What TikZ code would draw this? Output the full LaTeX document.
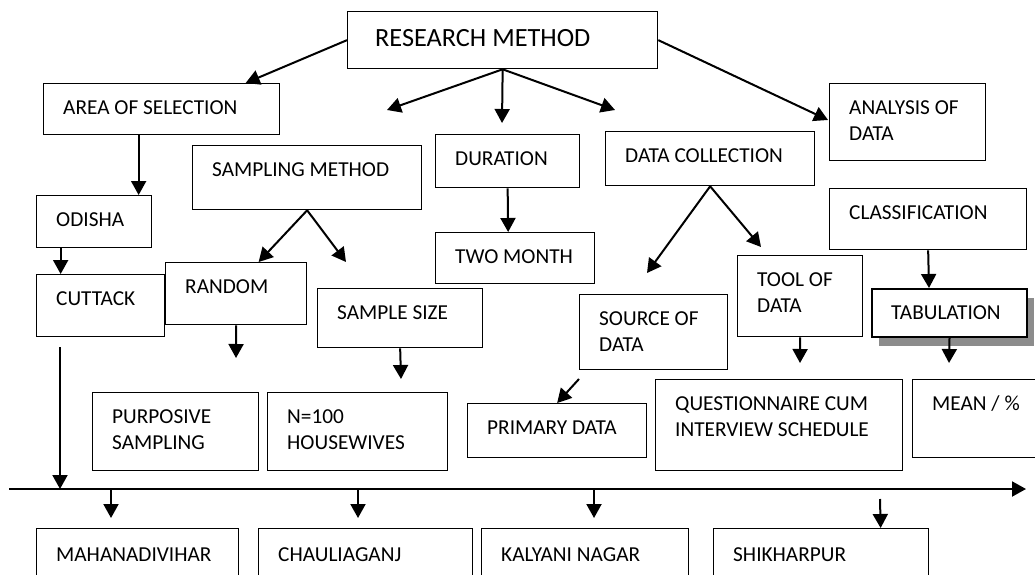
\documentclass[tikz,border=0pt]{standalone}
\usepackage{fontspec}
\setmainfont{Carlito}
\usetikzlibrary{arrows.meta,shadows}

\begin{document}
\begin{tikzpicture}[x=1pt,y=-1pt]
          \tikzstyle{box}=[draw, line width=1.3pt, anchor=north west, inner sep=0pt]
          \tikzstyle{lbl}=[anchor=base west, inner sep=0pt, align=left, xshift=20pt, yshift=-31pt, font=\fontsize{21.3}{26}\selectfont]
          \tikzstyle{lbltwo}=[lbl, yshift=-26pt]
          \tikzstyle{arr}=[line width=2pt, -{Triangle[length=14pt,width=15pt]}]
          \useasboundingbox (0,0) rectangle (1035,575);
          \node[box, minimum width=310, minimum height=57, label={[lbl, xshift=8pt, yshift=-5pt, font=\fontsize{26.3}{31}\selectfont]north west:RESEARCH METHOD}] (rm) at (347,11) {};
          \node[box, minimum width=236, minimum height=51, label={[lbl]north west:AREA OF SELECTION}] (area) at (43,83) {};
          \node[box, minimum width=229, minimum height=64, label={[lbl]north west:SAMPLING METHOD}] (samp) at (192,145) {};
          \node[box, minimum width=144, minimum height=53, label={[lbl]north west:DURATION}] (dur) at (435,134) {};
          \node[box, minimum width=115, minimum height=52, label={[lbl]north west:ODISHA}] (odisha) at (36,195) {};
          \node[box, minimum width=159, minimum height=51, label={[lbl]north west:TWO MONTH}] (twomonth) at (435,232) {};
          \node[box, minimum width=141, minimum height=62, label={[lbl]north west:RANDOM}] (random) at (165,262) {};
          \node[box, minimum width=128, minimum height=62, label={[lbl]north west:CUTTACK}] (cuttack) at (36,274) {};
          \node[box, minimum width=165, minimum height=59, label={[lbl]north west:SAMPLE SIZE}] (ssize) at (317,288) {};
          \node[box, minimum width=156, minimum height=77, label={[lbltwo]north west:ANALYSIS OF\\DATA}] (analysis) at (829,83) {};
          \node[box, minimum width=209, minimum height=54, label={[lbl]north west:DATA COLLECTION}] (datacoll) at (605,131) {};
          \node[box, minimum width=197, minimum height=61, label={[lbl]north west:CLASSIFICATION}] (classif) at (829,188) {};
          \node[box, minimum width=125, minimum height=81, label={[lbltwo]north west:TOOL OF\\DATA}] (tool) at (737,255) {};
          \node[box, line width=2pt, fill=white, minimum width=155, minimum height=48, drop shadow={shadow xshift=7pt, shadow yshift=-9pt, fill=black!45, opacity=1}, label={[lbl]north west:TABULATION}] (tab) at (871,288) {};
          \node[box, minimum width=148, minimum height=75, label={[lbltwo]north west:SOURCE OF\\DATA}] (source) at (579,294) {};
          \node[box, minimum width=179, minimum height=54, label={[lbl]north west:PRIMARY DATA}] (primary) at (467,403) {};
          \node[box, minimum width=247, minimum height=91, label={[lbltwo]north west:QUESTIONNAIRE CUM\\INTERVIEW SCHEDULE}] (quest) at (655,379) {};
          \node[box, minimum width=140, minimum height=78, label={[lbl]north west:MEAN / \%}] (mean) at (912,379) {};
          \node[box, minimum width=166, minimum height=78, label={[lbltwo]north west:PURPOSIVE\\SAMPLING}] (purp) at (92,392) {};
          \node[box, minimum width=180, minimum height=78, label={[lbltwo]north west:N=100\\HOUSEWIVES}] (nhouse) at (267,392) {};
          \node[box, minimum width=202, minimum height=60, label={[lbl, yshift=-2pt]north west:MAHANADIVIHAR}] (maha) at (36,528) {};
          \node[box, minimum width=214, minimum height=60, label={[lbl, yshift=-2pt]north west:CHAULIAGANJ}] (chau) at (258,528) {};
          \node[box, minimum width=207, minimum height=60, label={[lbl, yshift=-2pt]north west:KALYANI NAGAR}] (kaly) at (481,528) {};
          \node[box, minimum width=215, minimum height=60, label={[lbl, yshift=-2pt]north west:SHIKHARPUR}] (shik) at (713,528) {};
          \coordinate (ta) at (828,120);
          \coordinate (t1) at (387,110);
          \coordinate (t2) at (502,123);
          \coordinate (t3) at (615,110);
          \coordinate (ts) at (346,262);
          \coordinate (td1) at (647,273);
          \coordinate (td2) at (761,247);
          \coordinate (tr) at (236,358);
          \coordinate (tss) at (401,379);
          \coordinate (sp) at (579,379);
          \coordinate (tt) at (800,363);
          \coordinate (ttab) at (949,363);
          \coordinate (c1) at (60,347);
          \coordinate (ls) at (9,489);
          \coordinate (le) at (1026,489);
          \coordinate (b1) at (111,518);
          \coordinate (b2) at (358,518);
          \coordinate (b3) at (594,518);
          \coordinate (b4) at (880,499);
          \draw[arr] (rm.west) -- ([xshift=84pt]area.north);
          \draw[arr] (rm.east) -- (ta);
          \draw[arr] (rm.south) -- (t1);
          \draw[arr] (rm.south) -- (t2);
          \draw[arr] (rm.south) -- (t3);
          \draw[arr] ([xshift=-23pt]area.south) -- ([xshift=44.5pt]odisha.north);
          \draw[arr] ([xshift=-33.5pt]odisha.south) -- ([xshift=-40pt]cuttack.north);
          \draw[arr] (samp.south) -- ([xshift=22.5pt]random.north);
          \draw[arr] (samp.south) -- (ts);
          \draw[arr] (dur.south) -- ([xshift=-7pt]twomonth.north);
          \draw[arr] (datacoll.south) -- (td1);
          \draw[arr] (datacoll.south) -- (td2);
          \draw[arr] (classif.south) -- ([xshift=-20.5pt]tab.north);
          \draw[arr] (random.south) -- (tr);
          \draw[arr] (ssize.south) -- (tss);
          \draw[arr] (sp) -- (primary.north);
          \draw[arr] (tool.south) -- (tt);
          \draw[arr] (tab.south) -- (ttab);
          \draw[arr] (c1) -- (c1 |- ls);
          \draw[arr] (ls) -- (le);
          \draw[arr] (b1 |- ls) -- (b1);
          \draw[arr] (b2 |- ls) -- (b2);
          \draw[arr] (b3 |- ls) -- (b3);
          \draw[arr] (b4) -- ([xshift=59.5pt]shik.north);
        \end{tikzpicture}
\end{document}
